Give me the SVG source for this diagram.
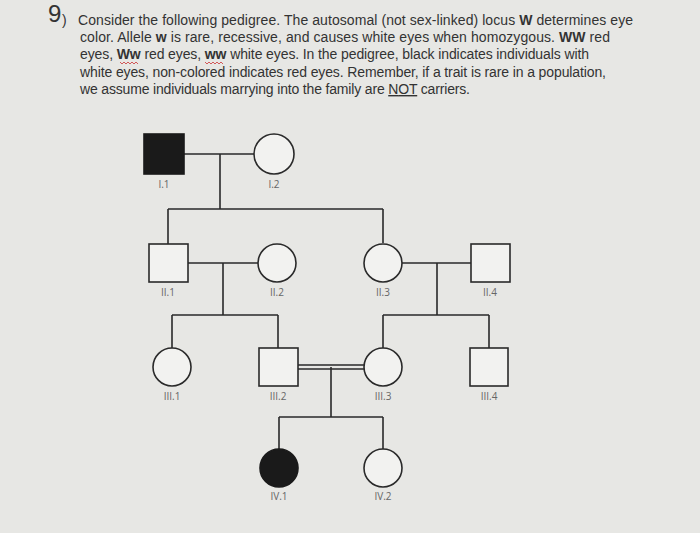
<svg xmlns="http://www.w3.org/2000/svg" width="700" height="533" viewBox="0 0 700 533">
<style>
.t{font-family:"Liberation Sans",Arial,sans-serif;font-size:14px;fill:#333}
.b{font-weight:bold}
.l{font-family:"Open Sans","DejaVu Sans",sans-serif;font-size:10px;fill:#666;text-anchor:middle}
.s{fill:none;stroke:#2a2a2a;stroke-width:1.6}
.f{fill:#1a1a1a;stroke:#1a1a1a;stroke-width:1.6}
.o{fill:#f2f2f0;stroke:#2a2a2a;stroke-width:1.6}
</style>
<rect width="700" height="533" fill="#e7e7e4"/>
<g id="header">
<text x="48" y="22" style="font-family:'Liberation Sans',sans-serif;font-size:24px;fill:#333">9</text>
<text class="t" x="62" y="25">)</text>
<text class="t" x="78" y="25" textLength="555">Consider the following pedigree. The autosomal (not sex-linked) locus <tspan class="b">W</tspan> determines eye</text>
<text class="t" x="80" y="42" textLength="530">color. Allele <tspan class="b">w</tspan> is rare, recessive, and causes white eyes when homozygous. <tspan class="b">WW</tspan> red</text>
<text class="t" x="80" y="59" textLength="509">eyes, <tspan class="b">Ww</tspan> red eyes, <tspan class="b">ww</tspan> white eyes. In the pedigree, black indicates individuals with</text>
<text class="t" x="80" y="77" textLength="526">white eyes, non-colored indicates red eyes. Remember, if a trait is rare in a population,</text>
<text class="t" x="80" y="94" textLength="390">we assume individuals marrying into the family are <tspan text-decoration="underline">NOT</tspan> carriers.</text>
<path d="M120 62 l2 2 l2 -2 l2 2 l2 -2 l2 2 l2 -2 l2 2 l2 -2 l2 2 M205 62 l2 2 l2 -2 l2 2 l2 -2 l2 2 l2 -2 l2 2 l2 -2 l2 2" fill="none" stroke="#c33" stroke-width="0.8"/>
</g>
<g id="connectors" class="s">
<path d="M184 154H254M220 154V209M168 209H383M168 209V244M383 209V243"/>
<path d="M188 263H258M223 263V315M172 315H278M172 315V348M278 315V348"/>
<path d="M402 263H471M437 263V315M383 315H489M383 315V348M489 315V348"/>
<path d="M298 365H365M298 369H365M331 367V417M279 417H383M279 417V449M383 417V449"/>
</g>
<g id="I1"><rect class="f" x="144" y="134" width="40" height="40"/><text class="l" x="164" y="188">I.1</text></g>
<g id="I2"><circle class="o" cx="274" cy="154" r="20"/><text class="l" x="274" y="188">I.2</text></g>
<g id="II1"><rect class="o" x="149" y="244" width="39" height="38"/><text class="l" x="168" y="296">II.1</text></g>
<g id="II2"><circle class="o" cx="277" cy="263" r="19"/><text class="l" x="277" y="296">II.2</text></g>
<g id="II3"><circle class="o" cx="383" cy="263" r="19"/><text class="l" x="383" y="296">II.3</text></g>
<g id="II4"><rect class="o" x="471" y="244" width="39" height="38"/><text class="l" x="490" y="296">II.4</text></g>
<g id="III1"><circle class="o" cx="172" cy="367" r="19"/><text class="l" x="172" y="400">III.1</text></g>
<g id="III2"><rect class="o" x="259" y="348" width="39" height="38"/><text class="l" x="278" y="400">III.2</text></g>
<g id="III3"><circle class="o" cx="383" cy="367" r="19"/><text class="l" x="383" y="400">III.3</text></g>
<g id="III4"><rect class="o" x="470" y="348" width="38" height="38"/><text class="l" x="489" y="400">III.4</text></g>
<g id="IV1"><circle class="f" cx="279" cy="468" r="19"/><text class="l" x="279" y="500">IV.1</text></g>
<g id="IV2"><circle class="o" cx="383" cy="468" r="19"/><text class="l" x="383" y="500">IV.2</text></g>
</svg>
